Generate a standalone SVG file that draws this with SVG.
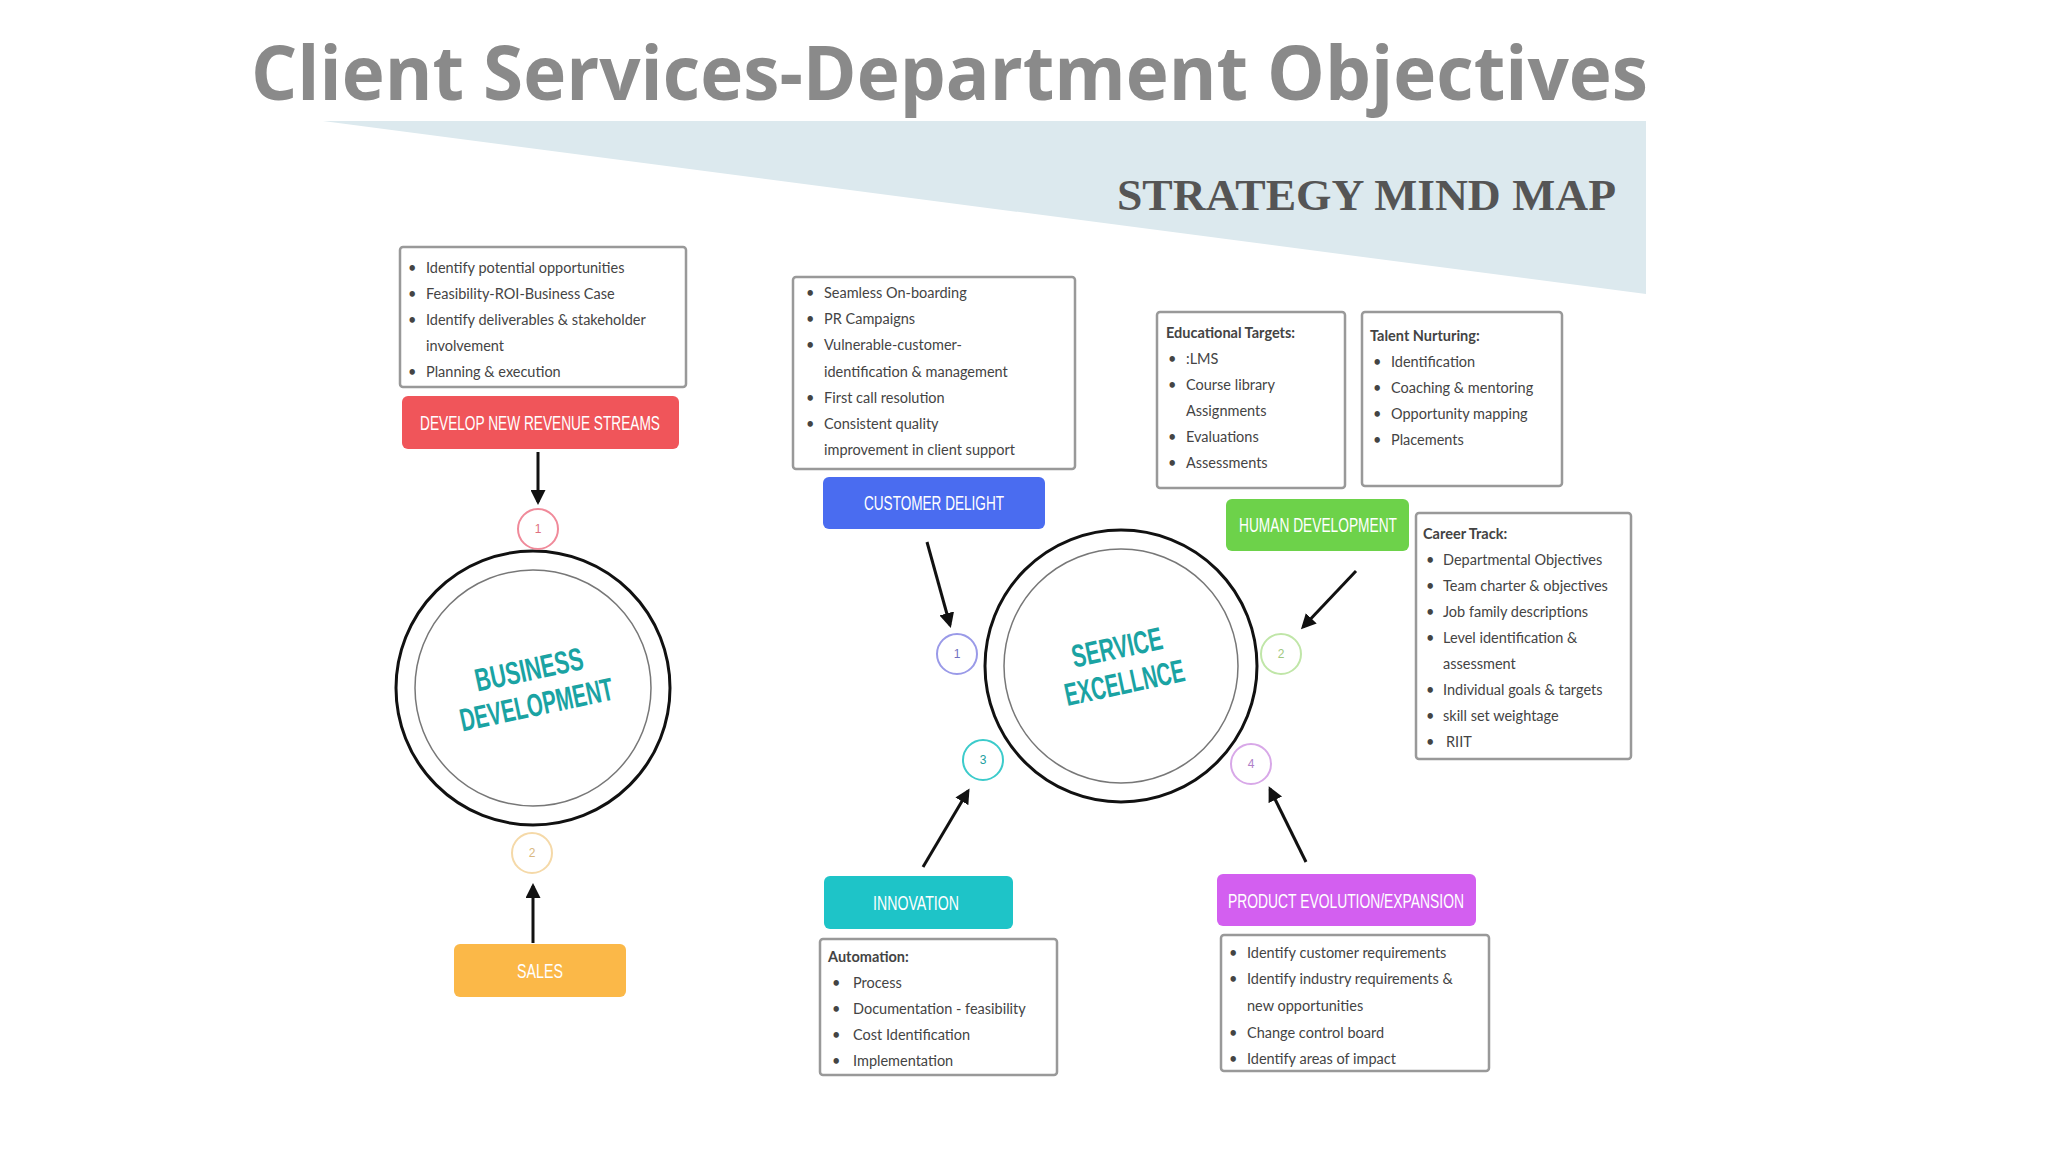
<svg xmlns="http://www.w3.org/2000/svg" width="2048" height="1152" viewBox="0 0 2048 1152">
<style>
.box{fill:#fff;stroke:#999;stroke-width:2.5}
.t{font-family:Lato,"Liberation Sans",sans-serif;font-size:14.5px;fill:#444}
.b{font-weight:bold}
.btn{font-family:"Liberation Sans",sans-serif;font-size:20px;fill:#fff;text-anchor:middle}
.num{font-family:"Liberation Sans",sans-serif;font-size:12px;text-anchor:middle}
.ar{stroke:#111;stroke-width:3;fill:none;marker-end:url(#ah)}
</style>
<defs><marker id="ah" viewBox="0 0 10 10" refX="8" refY="5" markerWidth="5" markerHeight="5" orient="auto"><path d="M0,0L10,5L0,10z" fill="#111"/></marker></defs>
<rect width="2048" height="1152" fill="#fff"/>
<text x="251" y="100" font-family="'Open Sans',sans-serif" font-weight="bold" font-size="76" fill="#8a8a8a" textLength="1397" lengthAdjust="spacingAndGlyphs">Client Services-Department Objectives</text>
<polygon points="323,121 1646,121 1646,294" fill="#dce9ee"/>
<text x="1117" y="210" font-family="'Liberation Serif',serif" font-weight="bold" font-size="44" fill="#555" textLength="499" lengthAdjust="spacingAndGlyphs">STRATEGY MIND MAP</text>

<g id="connectors">
<line class="ar" x1="538" y1="452" x2="538" y2="502"/>
<line class="ar" x1="533" y1="943" x2="533" y2="886"/>
<line class="ar" x1="927" y1="542" x2="950" y2="625"/>
<line class="ar" x1="1356" y1="571" x2="1303" y2="627"/>
<line class="ar" x1="923" y1="867" x2="968" y2="791"/>
<line class="ar" x1="1306" y1="862" x2="1270" y2="789"/>
</g>

<g id="bd-circle">
<circle cx="533" cy="688" r="137" fill="#fff" stroke="#111" stroke-width="3"/>
<circle cx="533" cy="688" r="118" fill="none" stroke="#777" stroke-width="1.5"/>
<g transform="rotate(-12 533 688)" font-family="'Liberation Sans',sans-serif" font-weight="bold" font-size="32" fill="#1aa3a3" text-anchor="middle">
<text x="533" y="680" textLength="110" lengthAdjust="spacingAndGlyphs">BUSINESS</text>
<text x="533" y="716" textLength="156" lengthAdjust="spacingAndGlyphs">DEVELOPMENT</text></g>
</g>
<g id="se-circle">
<circle cx="1121" cy="666" r="136" fill="#fff" stroke="#111" stroke-width="3"/>
<circle cx="1121" cy="666" r="117" fill="none" stroke="#777" stroke-width="1.5"/>
<g transform="rotate(-12 1121 666)" font-family="'Liberation Sans',sans-serif" font-weight="bold" font-size="32" fill="#1aa3a3" text-anchor="middle">
<text x="1121" y="658" textLength="92" lengthAdjust="spacingAndGlyphs">SERVICE</text>
<text x="1121" y="694" textLength="122" lengthAdjust="spacingAndGlyphs">EXCELLNCE</text></g>
</g>

<g id="n1"><circle cx="538" cy="529" r="20" fill="#fff" stroke="#f08a9a" stroke-width="2"/><text class="num" x="538" y="533" fill="#e07080">1</text></g>
<g id="n2"><circle cx="532" cy="853" r="20" fill="#fff" stroke="#f5d9a8" stroke-width="2"/><text class="num" x="532" y="857" fill="#d9b880">2</text></g>
<g id="s1"><circle cx="957" cy="654" r="20" fill="#fff" stroke="#9a9ae8" stroke-width="2"/><text class="num" x="957" y="658" fill="#7070c0">1</text></g>
<g id="s2"><circle cx="1281" cy="654" r="20" fill="#fff" stroke="#c0e6a8" stroke-width="2"/><text class="num" x="1281" y="658" fill="#a0c880">2</text></g>
<g id="s3"><circle cx="983" cy="760" r="20" fill="#fff" stroke="#3ccbcb" stroke-width="2"/><text class="num" x="983" y="764" fill="#20a0a0">3</text></g>
<g id="s4"><circle cx="1251" cy="764" r="20" fill="#fff" stroke="#d8a8e8" stroke-width="2"/><text class="num" x="1251" y="768" fill="#b080c8">4</text></g>

<g id="bd-box"><rect class="box" x="400" y="247" width="286" height="140" rx="3"/>
<g class="t"><text x="408" y="273">•</text><text x="426" y="273">Identify potential opportunities</text>
<text x="408" y="299">•</text><text x="426" y="299">Feasibility-ROI-Business Case</text>
<text x="408" y="325">•</text><text x="426" y="325">Identify deliverables &amp; stakeholder</text>
<text x="426" y="351">involvement</text>
<text x="408" y="377">•</text><text x="426" y="377">Planning &amp; execution</text></g></g>
<g id="revenue"><rect x="402" y="396" width="277" height="53" rx="6" fill="#f0555a"/><text class="btn" x="540" y="430" textLength="240" lengthAdjust="spacingAndGlyphs">DEVELOP NEW REVENUE STREAMS</text></g>
<g id="sales"><rect x="454" y="944" width="172" height="53" rx="6" fill="#fbb848"/><text class="btn" x="540" y="978" textLength="46" lengthAdjust="spacingAndGlyphs">SALES</text></g>

<g id="cd-box"><rect class="box" x="793" y="277" width="282" height="192" rx="3"/>
<g class="t"><text x="806" y="298">•</text><text x="824" y="298">Seamless On-boarding</text>
<text x="806" y="324">•</text><text x="824" y="324">PR Campaigns</text>
<text x="806" y="350">•</text><text x="824" y="350">Vulnerable-customer-</text>
<text x="824" y="377">identification  &amp; management</text>
<text x="806" y="403">•</text><text x="824" y="403">First call resolution</text>
<text x="806" y="429">•</text><text x="824" y="429">Consistent quality</text>
<text x="824" y="455">improvement in client support</text></g></g>
<g id="customer"><rect x="823" y="477" width="222" height="52" rx="6" fill="#4a6cf0"/><text class="btn" x="934" y="510" textLength="140" lengthAdjust="spacingAndGlyphs">CUSTOMER DELIGHT</text></g>

<g id="edu-box"><rect class="box" x="1157" y="312" width="188" height="176" rx="3"/>
<g class="t"><text class="b" x="1166" y="338">Educational Targets:</text>
<text x="1168" y="364">•</text><text x="1186" y="364">:LMS</text>
<text x="1168" y="390">•</text><text x="1186" y="390">Course library</text>
<text x="1186" y="416">Assignments</text>
<text x="1168" y="442">•</text><text x="1186" y="442">Evaluations</text>
<text x="1168" y="468">•</text><text x="1186" y="468">Assessments</text></g></g>
<g id="talent-box"><rect class="box" x="1362" y="312" width="200" height="174" rx="3"/>
<g class="t"><text class="b" x="1370" y="341">Talent Nurturing:</text>
<text x="1373" y="367">•</text><text x="1391" y="367">Identification</text>
<text x="1373" y="393">•</text><text x="1391" y="393">Coaching &amp; mentoring</text>
<text x="1373" y="419">•</text><text x="1391" y="419">Opportunity mapping</text>
<text x="1373" y="445">•</text><text x="1391" y="445">Placements</text></g></g>
<g id="human"><rect x="1226" y="499" width="183" height="52" rx="6" fill="#6dd24a"/><text class="btn" x="1318" y="532" textLength="158" lengthAdjust="spacingAndGlyphs">HUMAN DEVELOPMENT</text></g>
<g id="career-box"><rect class="box" x="1416" y="513" width="215" height="246" rx="3"/>
<g class="t"><text class="b" x="1423" y="539">Career Track:</text>
<text x="1426" y="565">•</text><text x="1443" y="565">Departmental Objectives</text>
<text x="1426" y="591">•</text><text x="1443" y="591">Team charter &amp; objectives</text>
<text x="1426" y="617">•</text><text x="1443" y="617">Job family descriptions</text>
<text x="1426" y="643">•</text><text x="1443" y="643">Level identification &amp;</text>
<text x="1443" y="669">assessment</text>
<text x="1426" y="695">•</text><text x="1443" y="695">Individual goals &amp; targets</text>
<text x="1426" y="721">•</text><text x="1443" y="721">skill set weightage</text>
<text x="1426" y="747">•</text><text x="1446" y="747">RIIT</text></g></g>

<g id="innovation"><rect x="824" y="876" width="189" height="53" rx="6" fill="#1ec4c8"/><text class="btn" x="916" y="910" textLength="86" lengthAdjust="spacingAndGlyphs">INNOVATION</text></g>
<g id="innov-box"><rect class="box" x="820" y="939" width="237" height="136" rx="3"/>
<g class="t"><text class="b" x="828" y="962">Automation:</text>
<text x="832" y="988">•</text><text x="853" y="988">Process</text>
<text x="832" y="1014">•</text><text x="853" y="1014">Documentation - feasibility</text>
<text x="832" y="1040">•</text><text x="853" y="1040">Cost Identification</text>
<text x="832" y="1066">•</text><text x="853" y="1066">Implementation</text></g></g>
<g id="product"><rect x="1217" y="874" width="259" height="52" rx="6" fill="#d35ff0"/><text class="btn" x="1346" y="908" textLength="236" lengthAdjust="spacingAndGlyphs">PRODUCT EVOLUTION/EXPANSION</text></g>
<g id="product-box"><rect class="box" x="1221" y="935" width="268" height="136" rx="3"/>
<g class="t"><text x="1229" y="958">•</text><text x="1247" y="958">Identify customer requirements</text>
<text x="1229" y="984">•</text><text x="1247" y="984">Identify industry requirements &amp;</text>
<text x="1247" y="1011">new opportunities</text>
<text x="1229" y="1038">•</text><text x="1247" y="1038">Change control board</text>
<text x="1229" y="1064">•</text><text x="1247" y="1064">Identify areas of impact</text></g></g>
</svg>
